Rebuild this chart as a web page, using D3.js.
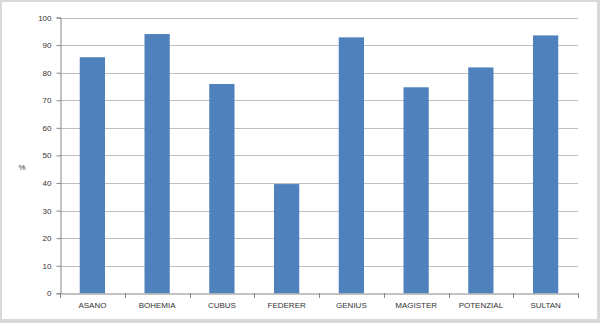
<!DOCTYPE html>
<html><head><meta charset="utf-8">
<script src="https://cdn.jsdelivr.net/npm/d3@7"></script>
<style>html,body{margin:0;padding:0;background:#fff;}svg{display:block;}</style>
</head><body>
<script>
const categories = ["ASANO","BOHEMIA","CUBUS","FEDERER","GENIUS","MAGISTER","POTENZIAL","SULTAN"];
const values = [85.6, 94.0, 75.9, 39.6, 92.8, 74.7, 81.9, 93.5];
const yTicks = [0,10,20,30,40,50,60,70,80,90,100];
const yLabel = "%";

(function(){
const W = 600, H = 323;
const svg = d3.select("body").append("svg").attr("width", W).attr("height", H);
svg.append("rect").attr("x",0).attr("y",0).attr("width",W).attr("height",H).attr("fill","#d9d9d9");
svg.append("rect").attr("x",2).attr("y",2).attr("width",W-5).attr("height",H-6).attr("fill","#fff");

const mLeft = 60, mRight = 578, mTop = 17.5, mBottom = 293.3;
const x = d3.scaleBand().domain(categories).range([mLeft, mRight]).paddingInner(0.61).paddingOuter(0.305);
const xb = d3.scaleBand().domain(categories).range([mLeft, mRight]);
const y = d3.scaleLinear().domain([0,100]).range([mBottom, mTop]);

const font = "'Liberation Sans', Arial, sans-serif";

svg.append("g").selectAll("line").data(yTicks.filter(d=>d>0)).join("line")
  .attr("x1", mLeft).attr("x2", mRight)
  .attr("y1", d=>Math.round(y(d))+0.5).attr("y2", d=>Math.round(y(d))+0.5)
  .attr("stroke","#bfbfbf").attr("stroke-width",1);

svg.append("g").selectAll("rect").data(categories).join("rect")
  .attr("x", (d)=>x(d)).attr("width", x.bandwidth())
  .attr("y", (d,i)=>y(values[i])).attr("height",(d,i)=>mBottom - y(values[i]))
  .attr("fill","#4f81bd");

const ya = svg.append("g").attr("transform",`translate(${mLeft+0.5},0)`)
  .call(d3.axisLeft(y).tickValues(yTicks).tickSize(4).tickPadding(5));
ya.select(".domain").attr("stroke","#868686");
ya.selectAll(".tick line").attr("stroke","#868686");
ya.selectAll(".tick text").attr("font-family",font).attr("font-size","8px").attr("fill","#333");

const xa = svg.append("g").attr("transform",`translate(0,${Math.round(mBottom)+0.5})`)
  .call(d3.axisBottom(xb).tickSize(0).tickPadding(9));
xa.select(".domain").attr("stroke","#868686");
xa.selectAll(".tick text").attr("font-family",font).attr("font-size","8px").attr("fill","#333");
svg.append("g").selectAll("line").data(d3.range(categories.length+1)).join("line")
  .attr("x1", i=>Math.round(mLeft + i*xb.step())+0.5).attr("x2", i=>Math.round(mLeft + i*xb.step())+0.5)
  .attr("y1", Math.round(mBottom)).attr("y2", Math.round(mBottom)+5)
  .attr("stroke","#868686");

svg.append("text").attr("x",22).attr("y",170).attr("text-anchor","middle")
  .attr("font-family",font).attr("font-size","8px").attr("fill","#333").text(yLabel);
})();
</script>
</body></html>
